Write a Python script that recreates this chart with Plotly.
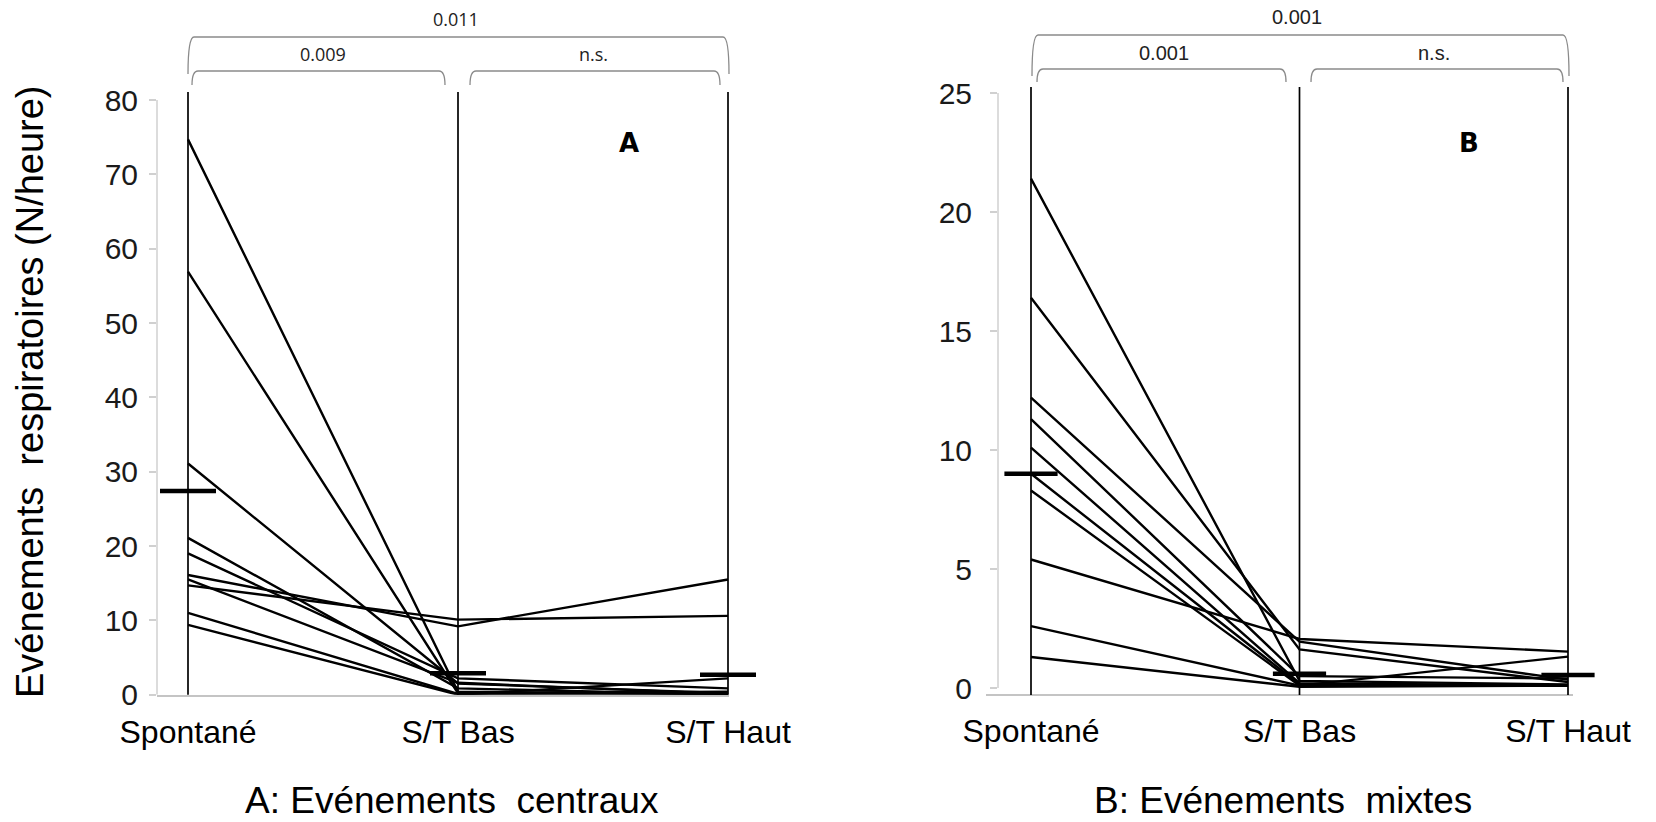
import plotly.graph_objects as go

W, H = 1656, 822

categories = ["Spontané", "S/T Bas", "S/T Haut"]

# Panel A: Evénements centraux (one row per patient)
A_spont = [74.7, 56.9, 31.1, 21.1, 19.0, 16.1, 15.5, 14.7, 11.0, 9.4]
A_bas   = [0.4, 0.2, 1.5, 0.85, 2.2, 9.2, 1.6, 10.1, 0.1, 0.0]
A_haut  = [0.1, 0.4, 0.2, 0.0, 0.85, 15.5, 0.1, 10.6, 0.0, 2.2]
A_mean  = [27.4, 2.9, 2.7]

# Panel B: Evénements mixtes
B_spont = [21.4, 16.4, 12.2, 11.3, 10.1, 9.0, 8.3, 5.4, 2.6, 1.3]
B_bas   = [0.3, 1.62, 1.95, 0.5, 0.2, 0.15, 0.1, 2.06, 0.1, 0.05]
B_haut  = [0.15, 0.25, 0.35, 0.4, 0.1, 0.1, 0.1, 1.53, 1.32, 0.1]
B_mean  = [9.0, 0.6, 0.55]

A_ticks = [0, 10, 20, 30, 40, 50, 60, 70, 80]
B_ticks = [0, 5, 10, 15, 20, 25]

A_pvals = ["0.011", "0.009", "n.s."]
B_pvals = ["0.001", "0.001", "n.s."]

FONT = "Liberation Sans"


def px(x):
    return x / W


def py(y):
    return 1 - y / H


fig = go.Figure()

for i in range(len(A_spont)):
    fig.add_trace(go.Scatter(
        x=[0, 1, 2], y=[A_spont[i], A_bas[i], A_haut[i]], mode="lines",
        line=dict(color="black", width=2.4), xaxis="x", yaxis="y",
        showlegend=False, cliponaxis=False, hoverinfo="skip"))
fig.add_trace(go.Scatter(
    x=[0, 1, 2], y=A_mean, mode="markers", xaxis="x", yaxis="y",
    marker=dict(symbol="line-ew", size=40, line=dict(width=4.5, color="black")),
    showlegend=False, cliponaxis=False))

for i in range(len(B_spont)):
    fig.add_trace(go.Scatter(
        x=[0, 1, 2], y=[B_spont[i], B_bas[i], B_haut[i]], mode="lines",
        line=dict(color="black", width=2.4), xaxis="x2", yaxis="y2",
        showlegend=False, cliponaxis=False, hoverinfo="skip"))
fig.add_trace(go.Scatter(
    x=[0, 1, 2], y=B_mean, mode="markers", xaxis="x2", yaxis="y2",
    marker=dict(symbol="line-ew", size=38, line=dict(width=4.5, color="black")),
    showlegend=False, cliponaxis=False))

# Geometry (pixels)
A_x0, A_x2 = 188, 728
A_unit = (A_x2 - A_x0) / 2
A_left, A_right = 157, 729
A_y0, A_y80 = 694.7, 100
A_ppu = (A_y0 - A_y80) / 80
A_top = 92

B_x0, B_x2 = 1031, 1568
B_unit = (B_x2 - B_x0) / 2
B_left, B_right = 998, 1573
B_y0, B_y25 = 688, 93
B_ppu = (B_y0 - B_y25) / 25
B_bottom, B_top = 695, 87

tickfont = dict(family=FONT, size=30, color="#1a1a1a")
catfont = dict(family=FONT, size=32, color="black")

fig.update_layout(
    width=W, height=H, margin=dict(l=0, r=0, t=0, b=0, autoexpand=False),
    paper_bgcolor="white", plot_bgcolor="white", showlegend=False,
    xaxis=dict(domain=[px(A_left), px(A_right)],
               range=[(A_left - A_x0) / A_unit, (A_right - A_x0) / A_unit],
               tickvals=[0, 1, 2], ticktext=categories, tickfont=catfont,
               showline=True, linecolor="#c4c4c4", linewidth=2, automargin=False,
               showgrid=False, zeroline=False, ticks="", ticklabelstandoff=8),
    yaxis=dict(domain=[py(A_y0), py(A_top)],
               range=[0, (A_y0 - A_top) / A_ppu], anchor="x", automargin=False,
               tickvals=A_ticks, tickfont=tickfont, ticks="outside",
               ticklen=7, tickcolor="#d0d0d0", tickwidth=1.5,
               showgrid=False, zeroline=False, showline=False,
               ticklabelstandoff=5),
    xaxis2=dict(domain=[px(B_left), px(B_right)],
                range=[(B_left - B_x0) / B_unit, (B_right - B_x0) / B_unit],
                anchor="y2", automargin=False,
                tickvals=[0, 1, 2], ticktext=categories, tickfont=catfont,
                showline=False, showgrid=False, zeroline=False, ticks="",
                ticklabelstandoff=14),
    yaxis2=dict(domain=[py(B_bottom), py(B_top)],
                range=[-(B_bottom - B_y0) / B_ppu, (B_y0 - B_top) / B_ppu],
                anchor="x2", automargin=False,
                tickvals=B_ticks, tickfont=tickfont, ticks="outside",
                ticklen=7, tickcolor="#d0d0d0", tickwidth=1.5,
                showgrid=False, zeroline=False, showline=False,
                ticklabelstandoff=12),
)

shapes = []
# grey y-axis lines
shapes.append(dict(type="line", xref="x domain", yref="y", x0=0, x1=0,
                   y0=0, y1=80, line=dict(color="#d0d0d0", width=1.5)))
shapes.append(dict(type="line", xref="x2 domain", yref="y2", x0=0, x1=0,
                   y0=0, y1=25, line=dict(color="#d0d0d0", width=1.5)))
# grey bottom line for panel B (extends a bit to the left)
shapes.append(dict(type="line", xref="paper", yref="paper",
                   x0=px(B_left - 12), x1=px(B_right), y0=py(B_bottom), y1=py(B_bottom),
                   line=dict(color="#c4c4c4", width=2)))
# vertical category lines
for k in range(3):
    shapes.append(dict(type="line", xref="x", yref="y domain", x0=k, x1=k,
                       y0=0, y1=1, line=dict(color="black", width=1.7)))
    shapes.append(dict(type="line", xref="x2", yref="y2 domain", x0=k, x1=k,
                       y0=0, y1=1, line=dict(color="black", width=1.7)))


def bracket(x1, x2, ytop, ybot, r=6):
    return dict(type="path", xref="paper", yref="paper",
                path=(f"M {px(x1)},{py(ybot)} Q {px(x1)},{py(ytop)} {px(x1 + r)},{py(ytop)} "
                      f"L {px(x2 - r)},{py(ytop)} Q {px(x2)},{py(ytop)} {px(x2)},{py(ybot)}"),
                line=dict(color="#8a8a8a", width=1.3))


shapes += [
    bracket(188, 729, 37, 74),
    bracket(192, 445, 71, 85),
    bracket(470, 720, 71, 85),
    bracket(1032, 1569, 35, 76),
    bracket(1037, 1286, 69, 82),
    bracket(1311, 1563, 69, 82),
]
fig.update_layout(shapes=shapes)


def note(text, x, y, font, **kw):
    return dict(text=text, x=px(x), y=py(y), xref="paper", yref="paper",
                xanchor="center", yanchor="middle", showarrow=False, font=font, **kw)


ann = []
for txt, (x, y) in zip(A_pvals, [(456, 19), (323, 54), (593, 54)]):
    ann.append(note(txt, x, y, dict(family="Open Sans", size=18, color="#222")))
for txt, (x, y) in zip(B_pvals, [(1297, 17), (1164, 53), (1434, 53)]):
    ann.append(note(txt, x, y, dict(family=FONT, size=20, color="#222")))
ann.append(note("<b>A</b>", 629, 143, dict(family="DejaVu Sans", size=26, color="black")))
ann.append(note("<b>B</b>", 1469, 143, dict(family="DejaVu Sans", size=26, color="black")))
ann.append(note("A: Evénements  centraux", 452, 800, dict(family=FONT, size=37, color="black")))
ann.append(note("B: Evénements  mixtes", 1283, 800, dict(family=FONT, size=37, color="black")))
ann.append(note("Evénements  respiratoires (N/heure)", 30, 392,
                dict(family=FONT, size=38, color="black"), textangle=-90))
fig.update_layout(annotations=ann)

fig.write_html("out.html")
